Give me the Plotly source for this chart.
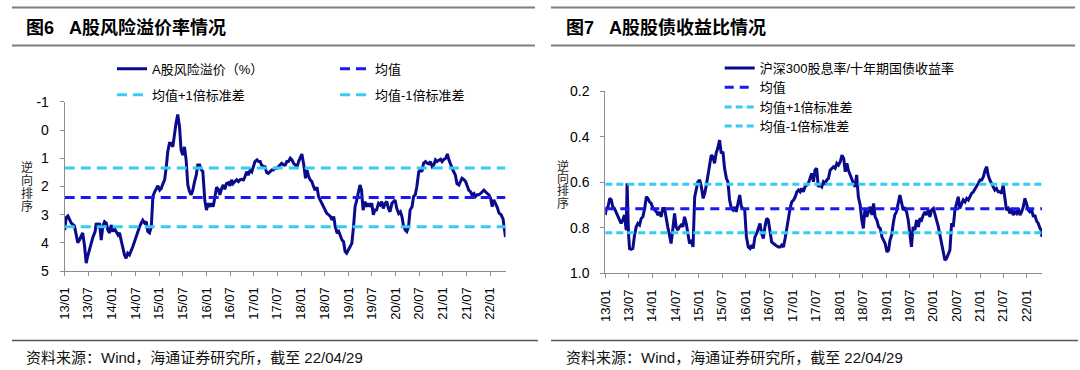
import plotly.graph_objects as go

# ---------------- data ----------------
left_dates = [
    "2013-01-01", "2013-01-13", "2013-01-26", "2013-02-21", "2013-03-17", "2013-03-29", "2013-04-12", "2013-04-25",
    "2013-05-20", "2013-06-03", "2013-06-16", "2013-06-28", "2013-07-11", "2013-07-24", "2013-08-07", "2013-08-24",
    "2013-09-02", "2013-09-14", "2013-09-27", "2013-10-10", "2013-10-23", "2013-11-05", "2013-11-18", "2013-12-01",
    "2013-12-14", "2013-12-26",
    "2014-01-09", "2014-01-22", "2014-02-04", "2014-02-17", "2014-02-28", "2014-03-12", "2014-03-25", "2014-04-08",
    "2014-04-20", "2014-05-03", "2014-05-16", "2014-05-29", "2014-06-11", "2014-06-24", "2014-07-07", "2014-07-19",
    "2014-08-02", "2014-08-15", "2014-08-27", "2014-09-10", "2014-09-23", "2014-10-05", "2014-10-18", "2014-11-01",
    "2014-11-13", "2014-11-26", "2014-12-09", "2014-12-22",
    "2015-01-05", "2015-01-17", "2015-01-30", "2015-02-12", "2015-02-25", "2015-03-08", "2015-03-21", "2015-04-03",
    "2015-04-16", "2015-04-29", "2015-05-11", "2015-05-24", "2015-06-07", "2015-06-19", "2015-07-02", "2015-07-15",
    "2015-07-28", "2015-08-10", "2015-08-23", "2015-09-05", "2015-09-18", "2015-10-01", "2015-10-14", "2015-10-26",
    "2015-11-09", "2015-11-22", "2015-12-04", "2015-12-19",
    "2016-01-01", "2016-01-13", "2016-01-28", "2016-02-10", "2016-02-22", "2016-03-07", "2016-03-19", "2016-04-01",
    "2016-04-13", "2016-04-28", "2016-05-10", "2016-05-22", "2016-06-04", "2016-06-19", "2016-07-01", "2016-07-13",
    "2016-07-25", "2016-08-07", "2016-08-22", "2016-09-04", "2016-09-16", "2016-09-28", "2016-10-13", "2016-10-25",
    "2016-11-07", "2016-11-19", "2016-12-04", "2016-12-16", "2016-12-28",
    "2017-01-10", "2017-01-25", "2017-02-07", "2017-02-19", "2017-03-01", "2017-03-16", "2017-03-28", "2017-04-10",
    "2017-04-22", "2017-05-07", "2017-05-19", "2017-06-01", "2017-06-13", "2017-06-28", "2017-07-10", "2017-07-22",
    "2017-08-04", "2017-08-19", "2017-09-01", "2017-09-13", "2017-09-25", "2017-10-10", "2017-10-22", "2017-11-04",
    "2017-11-16", "2017-12-01", "2017-12-13", "2017-12-25",
    "2018-01-07", "2018-01-22", "2018-02-04", "2018-02-16", "2018-02-28", "2018-03-13", "2018-03-25", "2018-04-07",
    "2018-04-19", "2018-05-04", "2018-05-16", "2018-05-28", "2018-06-10", "2018-06-25", "2018-07-07", "2018-07-19",
    "2018-08-01", "2018-08-16", "2018-08-28", "2018-09-10", "2018-09-22", "2018-10-07", "2018-10-19", "2018-11-01",
    "2018-11-13", "2018-11-25", "2018-12-07", "2018-12-19",
    "2019-01-01", "2019-01-16", "2019-01-28", "2019-02-10", "2019-02-22", "2019-03-04", "2019-03-19", "2019-04-01",
    "2019-04-13", "2019-04-25", "2019-05-10", "2019-05-22", "2019-06-04", "2019-06-16", "2019-07-01", "2019-07-13",
    "2019-07-25", "2019-08-07", "2019-08-22", "2019-09-04", "2019-09-16", "2019-09-28", "2019-10-13", "2019-10-25",
    "2019-11-07", "2019-11-19", "2019-12-04", "2019-12-16", "2019-12-28",
    "2020-01-10", "2020-01-25", "2020-02-07", "2020-02-19", "2020-03-01", "2020-03-16", "2020-03-28", "2020-04-10",
    "2020-04-22", "2020-05-07", "2020-05-19", "2020-06-01", "2020-06-13", "2020-06-28", "2020-07-10", "2020-07-22",
    "2020-08-04", "2020-08-19", "2020-09-01", "2020-09-13", "2020-09-25", "2020-10-10", "2020-10-22", "2020-11-04",
    "2020-11-16", "2020-12-01", "2020-12-13", "2020-12-25",
    "2021-01-07", "2021-01-22", "2021-02-04", "2021-02-16", "2021-02-28", "2021-03-13", "2021-03-25", "2021-04-07",
    "2021-04-19", "2021-05-04", "2021-05-16", "2021-05-28", "2021-06-10", "2021-06-25", "2021-07-07", "2021-07-19",
    "2021-08-01", "2021-08-13", "2021-08-28", "2021-09-10", "2021-09-22", "2021-10-04", "2021-10-19", "2021-11-01",
    "2021-11-13", "2021-11-25", "2021-12-10", "2021-12-22",
    "2022-01-04", "2022-01-16", "2022-01-28", "2022-02-10", "2022-02-25", "2022-03-10", "2022-03-25", "2022-04-10",
    "2022-04-19", "2022-04-29",
]
left_values = [
    3.55, 3.10, 3.05, 3.30, 3.40, 3.65, 4.00, 3.90,
    3.65, 4.10, 4.72, 4.47, 4.25, 4.00, 3.80, 3.60,
    3.30, 3.47, 3.30, 3.90, 3.40, 3.25, 3.30, 3.55,
    3.65, 3.37,
    3.60, 3.50, 3.60, 3.72, 3.65, 3.90, 4.14, 4.43,
    4.55, 4.37, 4.43, 4.30, 4.14, 3.96, 3.78, 3.55,
    3.43, 3.30, 3.20, 3.30, 3.25, 3.60, 3.65, 3.43,
    2.36, 2.20, 2.07, 1.98,
    2.13, 2.07, 1.90, 1.77, 1.30, 0.77, 0.47, 0.47,
    0.60, 0.12, -0.24, -0.55, -0.12, 0.71, 0.89, 0.60,
    1.06, 1.95, 2.18, 2.30, 2.13, 1.83, 1.60, 1.24,
    1.24, 1.41, 1.47, 2.48,
    2.84, 2.60, 2.72, 2.60, 2.72, 2.36, 2.03, 2.10,
    2.30, 2.07, 1.95, 2.10, 1.90, 1.87, 1.98, 1.77,
    1.90, 1.83, 1.77, 1.83, 1.77, 1.75, 1.77, 1.65,
    1.48, 1.60, 1.42, 1.48, 1.30,
    1.12, 1.06, 1.12, 1.12, 1.24, 1.30, 1.30, 1.51,
    1.54, 1.48, 1.42, 1.42, 1.36, 1.36, 1.30, 1.24,
    1.18, 1.24, 1.24, 1.12, 1.12, 1.00, 1.06, 1.18,
    1.24, 1.30, 1.12, 0.95,
    0.85, 1.24, 1.71, 1.42, 1.65, 1.77, 1.83, 2.00,
    2.13, 2.03, 2.36, 2.48, 2.60, 2.72, 2.84, 2.96,
    3.00, 3.07, 3.19, 3.07, 3.43, 3.66, 3.60, 3.78,
    3.90, 3.96, 4.31, 4.37,
    4.26, 4.14, 4.02, 3.43, 2.72, 2.54, 2.25, 1.95,
    2.13, 2.84, 2.54, 2.72, 2.60, 2.72, 2.60, 3.01,
    2.84, 2.84, 2.60, 2.66, 2.54, 2.78, 2.60, 2.54,
    2.78, 2.90, 2.60, 2.54, 2.48,
    2.78, 2.96, 2.90, 3.07, 3.37, 3.55, 3.60, 3.43,
    2.84, 2.72, 2.36, 2.30, 2.01, 1.48, 1.42, 1.48,
    1.18, 1.12, 1.18, 1.20, 1.12, 1.30, 1.24, 1.06,
    1.12, 1.09, 1.04, 1.12,
    1.04, 1.00, 0.85, 1.06, 1.24, 1.36, 1.48, 1.60,
    1.90, 1.95, 1.83, 1.71, 1.75, 1.83, 1.98, 2.13,
    2.19, 2.30, 2.25, 2.36, 2.30, 2.30, 2.25, 2.19,
    2.13, 2.19, 2.25, 2.30,
    2.42, 2.72, 2.48, 2.60, 2.75, 2.95, 3.00, 3.15,
    3.40, 3.80,
]
left_mean = 2.39
left_plus_std = 3.43
left_minus_std = 1.35

right_dates = [
    "2013-01-01", "2013-01-09", "2013-01-22", "2013-02-05", "2013-02-17", "2013-02-28", "2013-03-13", "2013-03-26",
    "2013-04-09", "2013-04-21", "2013-05-04", "2013-05-17", "2013-05-30", "2013-06-13", "2013-06-20", "2013-07-01",
    "2013-07-09", "2013-07-21", "2013-08-04", "2013-08-17", "2013-08-30", "2013-09-12", "2013-09-25", "2013-10-08",
    "2013-10-21", "2013-11-04", "2013-11-17", "2013-11-29", "2013-12-12", "2013-12-25",
    "2014-01-08", "2014-01-21", "2014-02-04", "2014-02-16", "2014-02-28", "2014-03-12", "2014-03-25", "2014-04-08",
    "2014-04-21", "2014-05-03", "2014-05-16", "2014-05-29", "2014-06-12", "2014-06-25", "2014-07-07", "2014-07-20",
    "2014-08-03", "2014-08-16", "2014-08-29", "2014-09-11", "2014-09-24", "2014-10-07", "2014-10-20", "2014-11-03",
    "2014-11-16", "2014-11-29", "2014-12-12", "2014-12-24",
    "2015-01-07", "2015-01-20", "2015-02-03", "2015-02-15", "2015-02-28", "2015-03-11", "2015-03-24", "2015-04-07",
    "2015-04-20", "2015-05-03", "2015-05-15", "2015-05-28", "2015-06-11", "2015-06-24", "2015-07-07", "2015-07-20",
    "2015-08-03", "2015-08-15", "2015-08-28", "2015-09-11", "2015-09-24", "2015-10-07", "2015-10-19", "2015-11-02",
    "2015-11-15", "2015-11-28", "2015-12-11", "2015-12-24",
    "2016-01-06", "2016-01-21", "2016-02-04", "2016-02-17", "2016-02-28", "2016-03-13", "2016-03-26", "2016-04-09",
    "2016-04-21", "2016-05-04", "2016-05-17", "2016-05-30", "2016-06-12", "2016-06-25", "2016-07-08", "2016-07-21",
    "2016-08-04", "2016-08-17", "2016-08-30", "2016-09-12", "2016-09-25", "2016-10-08", "2016-10-21", "2016-11-03",
    "2016-11-16", "2016-11-29", "2016-12-12", "2016-12-25",
    "2017-01-08", "2017-01-21", "2017-02-03", "2017-02-16", "2017-02-28", "2017-03-12", "2017-03-25", "2017-04-07",
    "2017-04-20", "2017-05-03", "2017-05-16", "2017-05-29", "2017-06-12", "2017-06-24", "2017-07-07", "2017-07-20",
    "2017-08-03", "2017-08-16", "2017-08-29", "2017-09-11", "2017-09-24", "2017-10-07", "2017-10-20", "2017-11-03",
    "2017-11-15", "2017-11-28", "2017-12-11", "2017-12-24",
    "2018-01-07", "2018-01-20", "2018-02-03", "2018-02-15", "2018-02-28", "2018-03-11", "2018-03-24", "2018-04-07",
    "2018-04-20", "2018-05-02", "2018-05-15", "2018-05-28", "2018-06-11", "2018-06-24", "2018-07-06", "2018-07-19",
    "2018-08-02", "2018-08-15", "2018-08-28", "2018-09-11", "2018-09-24", "2018-10-06", "2018-10-19", "2018-11-02",
    "2018-11-15", "2018-11-28", "2018-12-11", "2018-12-23",
    "2019-01-06", "2019-01-19", "2019-01-30", "2019-02-12", "2019-02-24", "2019-03-08", "2019-03-21", "2019-04-04",
    "2019-04-17", "2019-04-29", "2019-05-12", "2019-05-25", "2019-06-08", "2019-06-21", "2019-07-03", "2019-07-16",
    "2019-07-29", "2019-08-12", "2019-08-25", "2019-09-08", "2019-09-20", "2019-10-03", "2019-10-16", "2019-10-29",
    "2019-11-11", "2019-11-24", "2019-12-07", "2019-12-20",
    "2020-01-03", "2020-01-15", "2020-01-28", "2020-02-11", "2020-02-23", "2020-03-07", "2020-03-20", "2020-04-02",
    "2020-04-15", "2020-04-28", "2020-05-11", "2020-05-24", "2020-06-06", "2020-06-19", "2020-07-02", "2020-07-15",
    "2020-07-27", "2020-08-10", "2020-08-23", "2020-09-06", "2020-09-19", "2020-10-02", "2020-10-14", "2020-10-27",
    "2020-11-10", "2020-11-23", "2020-12-05", "2020-12-18",
    "2021-01-01", "2021-01-14", "2021-01-27", "2021-02-09", "2021-02-22", "2021-03-05", "2021-03-18", "2021-03-31",
    "2021-04-14", "2021-04-26", "2021-05-09", "2021-05-22", "2021-06-05", "2021-06-17", "2021-06-30", "2021-07-13",
    "2021-07-26", "2021-08-09", "2021-08-21", "2021-09-04", "2021-09-17", "2021-09-30", "2021-10-13", "2021-10-26",
    "2021-11-08", "2021-11-21", "2021-12-04", "2021-12-17", "2021-12-29",
    "2022-01-12", "2022-01-25", "2022-02-08", "2022-02-21", "2022-03-05", "2022-03-17", "2022-03-30", "2022-04-12",
    "2022-04-22", "2022-04-29",
]
right_values = [
    0.744, 0.715, 0.708, 0.671, 0.678, 0.708, 0.715, 0.730,
    0.752, 0.766, 0.781, 0.766, 0.744, 0.810, 0.605, 0.825,
    0.891, 0.895, 0.891, 0.832, 0.796, 0.781, 0.788, 0.759,
    0.752, 0.715, 0.664, 0.671, 0.686, 0.693,
    0.715, 0.722, 0.730, 0.744, 0.730, 0.752, 0.715, 0.715,
    0.766, 0.796, 0.832, 0.869, 0.803, 0.737, 0.796, 0.810,
    0.796, 0.788, 0.796, 0.752, 0.781, 0.832, 0.869, 0.854,
    0.884, 0.664, 0.634, 0.598,
    0.590, 0.620, 0.671, 0.649, 0.612, 0.576, 0.532, 0.481,
    0.488, 0.517, 0.473, 0.451, 0.415, 0.473, 0.466, 0.539,
    0.583, 0.598, 0.678, 0.715, 0.722, 0.708, 0.730, 0.686,
    0.656, 0.708, 0.715, 0.722,
    0.840, 0.884, 0.891, 0.876, 0.891, 0.840, 0.825, 0.796,
    0.781, 0.825, 0.847, 0.796, 0.759, 0.766, 0.818, 0.862,
    0.869, 0.876, 0.880, 0.884, 0.884, 0.876, 0.884, 0.847,
    0.796, 0.752, 0.715, 0.686,
    0.678, 0.664, 0.642, 0.634, 0.642, 0.627, 0.642, 0.620,
    0.612, 0.605, 0.583, 0.561, 0.598, 0.547, 0.539, 0.620,
    0.612, 0.620, 0.598, 0.605, 0.590, 0.583, 0.547, 0.539,
    0.532, 0.539, 0.517, 0.525,
    0.510, 0.481, 0.495, 0.554, 0.517, 0.547, 0.568, 0.583,
    0.605, 0.620, 0.568, 0.664, 0.700, 0.766, 0.803, 0.715,
    0.752, 0.730, 0.708, 0.744, 0.693, 0.752, 0.766, 0.796,
    0.803, 0.840, 0.854, 0.869,
    0.906, 0.898, 0.854, 0.832, 0.781, 0.744, 0.730, 0.686,
    0.656, 0.686, 0.722, 0.715, 0.730, 0.766, 0.825, 0.884,
    0.796, 0.810, 0.766, 0.796, 0.759, 0.766, 0.744, 0.730,
    0.744, 0.722, 0.752, 0.722,
    0.715, 0.737, 0.766, 0.796, 0.832, 0.869, 0.913, 0.942,
    0.935, 0.913, 0.898, 0.781, 0.796, 0.722, 0.693, 0.664,
    0.715, 0.693, 0.678, 0.686, 0.671, 0.678, 0.664, 0.649,
    0.642, 0.627, 0.620, 0.605,
    0.590, 0.590, 0.576, 0.547, 0.532, 0.568, 0.590, 0.605,
    0.620, 0.634, 0.627, 0.642, 0.642, 0.649, 0.612, 0.678,
    0.722, 0.715, 0.737, 0.715, 0.744, 0.730, 0.737, 0.715,
    0.744, 0.730, 0.708, 0.671, 0.693,
    0.722, 0.730, 0.722, 0.752, 0.744, 0.770, 0.780, 0.800,
    0.810, 0.840,
]
right_mean = 0.716
right_plus_std = 0.822
right_minus_std = 0.609

tick_dates = ["2013-01-01", "2013-07-01", "2014-01-01", "2014-07-01", "2015-01-01", "2015-07-01",
              "2016-01-01", "2016-07-01", "2017-01-01", "2017-07-01", "2018-01-01", "2018-07-01",
              "2019-01-01", "2019-07-01", "2020-01-01", "2020-07-01", "2021-01-01", "2021-07-01",
              "2022-01-01"]
tick_labels = ["13/01", "13/07", "14/01", "14/07", "15/01", "15/07", "16/01", "16/07", "17/01", "17/07",
               "18/01", "18/07", "19/01", "19/07", "20/01", "20/07", "21/01", "21/07", "22/01"]
left_yticks = [-1, 0, 1, 2, 3, 4, 5]
right_yticks = [0.2, 0.4, 0.6, 0.8, 1.0]

x_start = "2013-01-01"
x_end = "2022-04-29"

# ---------------- style ----------------
W, H = 1080, 370
FONT = "Arial, 'Liberation Sans', 'Noto Sans CJK SC', sans-serif"
NAVY = "#0A0A8C"
BLUE = "#1A1AF0"
CYAN = "#33CCF5"
AXIS_GREY = "#8C8C8C"
NBSP = "\u00a0"


def px(x):
    return x / W


def py(y):
    return 1 - y / H


fig = go.Figure()

# left chart traces
fig.add_trace(go.Scatter(x=left_dates, y=left_values, mode="lines", name="A股风险溢价（%）",
                         line=dict(color=NAVY, width=3), xaxis="x", yaxis="y", legend="legend"))
fig.add_trace(go.Scatter(x=[x_start, x_end], y=[left_mean, left_mean], mode="lines", name="均值",
                         line=dict(color=BLUE, width=3, dash="10px,6px"), xaxis="x", yaxis="y", legend="legend2"))
fig.add_trace(go.Scatter(x=[x_start, x_end], y=[left_plus_std, left_plus_std], mode="lines", name="均值+1倍标准差",
                         line=dict(color=CYAN, width=3, dash="10px,6px"), xaxis="x", yaxis="y", legend="legend3"))
fig.add_trace(go.Scatter(x=[x_start, x_end], y=[left_minus_std, left_minus_std], mode="lines", name="均值-1倍标准差",
                         line=dict(color=CYAN, width=3, dash="10px,6px"), xaxis="x", yaxis="y", legend="legend4"))

# right chart traces
fig.add_trace(go.Scatter(x=right_dates, y=right_values, mode="lines", name="沪深300股息率/十年期国债收益率",
                         line=dict(color=NAVY, width=3), xaxis="x2", yaxis="y2", legend="legend5"))
fig.add_trace(go.Scatter(x=[x_start, x_end], y=[right_mean, right_mean], mode="lines", name="均值",
                         line=dict(color=BLUE, width=3, dash="9px,6px"), xaxis="x2", yaxis="y2", legend="legend6"))
fig.add_trace(go.Scatter(x=[x_start, x_end], y=[right_plus_std, right_plus_std], mode="lines", name="均值+1倍标准差",
                         line=dict(color=CYAN, width=3, dash="7px,4px"), xaxis="x2", yaxis="y2", legend="legend7"))
fig.add_trace(go.Scatter(x=[x_start, x_end], y=[right_minus_std, right_minus_std], mode="lines", name="均值-1倍标准差",
                         line=dict(color=CYAN, width=3, dash="7px,4px"), xaxis="x2", yaxis="y2", legend="legend8"))

xaxis_common = dict(type="date", range=[x_start, x_end], tickmode="array", tickvals=tick_dates, ticktext=tick_labels,
                    tickangle=-90, ticks="outside", ticklen=4, tickcolor=AXIS_GREY, showline=True, linecolor=AXIS_GREY,
                    linewidth=1, showgrid=False, zeroline=False, tickfont=dict(size=13, color="#000", family=FONT),
                    ticklabelstandoff=6, automargin=False)
yaxis_common = dict(ticks="outside", ticklen=4, tickcolor=AXIS_GREY, showline=True, linecolor=AXIS_GREY, linewidth=1,
                    showgrid=False, zeroline=False, tickfont=dict(size=14, color="#000", family=FONT),
                    ticklabelstandoff=8, automargin=False)

legend_common = dict(bgcolor="rgba(0,0,0,0)", borderwidth=0, font=dict(size=13, color="#000", family=FONT),
                     xanchor="left", yanchor="middle", itemwidth=30, orientation="v", itemclick=False)


def leg(xtext, ycenter):
    d = dict(legend_common)
    d["x"] = px(xtext - 40)
    d["y"] = py(ycenter)
    return d


shapes = []
for (x0, x1, y) in [(12, 535, 7.6), (12, 535, 45.5), (551, 1075, 7.6), (551, 1075, 45.5)]:
    shapes.append(dict(type="line", xref="paper", yref="paper", x0=px(x0), x1=px(x1), y0=py(y), y1=py(y),
                       line=dict(color="#7F7F7F", width=2)))
for (x0, x1, y) in [(12, 538, 340.6), (551, 1078, 340.6)]:
    shapes.append(dict(type="line", xref="paper", yref="paper", x0=px(x0), x1=px(x1), y0=py(y), y1=py(y),
                       line=dict(color="#555555", width=1.5)))

annotations = []
for (x, text) in [(24, "图6" + NBSP * 3 + "A股风险溢价率情况"), (563.5, "图7" + NBSP * 3 + "A股股债收益比情况")]:
    annotations.append(dict(xref="paper", yref="paper", x=px(x), y=py(27.5), xanchor="left", yanchor="middle",
                            text="<b>" + text + "</b>", showarrow=False,
                            font=dict(size=18, color="#000", family=FONT)))
for x in [24, 563.5]:
    annotations.append(dict(xref="paper", yref="paper", x=px(x), y=py(357), xanchor="left", yanchor="middle",
                            text="资料来源：Wind，海通证券研究所，截至 22/04/29", showarrow=False,
                            font=dict(size=15, color="#111", family=FONT)))
for (xc, ys) in [(27, [167.5, 180.5, 193.5, 206.5]), (562.5, [166, 178.5, 191, 203.5])]:
    for ch, yy in zip("逆向排序", ys):
        annotations.append(dict(xref="paper", yref="paper", x=px(xc), y=py(yy), xanchor="center", yanchor="middle",
                                text=ch, showarrow=False, font=dict(size=12, color="#222", family=FONT)))

fig.update_layout(
    width=W, height=H, margin=dict(l=0, r=0, t=0, b=0, pad=0, autoexpand=False),
    paper_bgcolor="white", plot_bgcolor="white",
    showlegend=True,
    xaxis=dict(domain=[px(64.7), px(505.5)], anchor="y", **xaxis_common),
    yaxis=dict(domain=[py(271), py(101.8)], anchor="x", range=[5, -1], tickvals=left_yticks,
               ticktext=[str(v) for v in left_yticks], **yaxis_common),
    xaxis2=dict(domain=[px(605.3), px(1042)], anchor="y2", **xaxis_common),
    yaxis2=dict(domain=[py(273.3), py(91.2)], anchor="x2", range=[1.0, 0.2], tickvals=right_yticks,
                ticktext=["%.1f" % v for v in right_yticks], **yaxis_common),
    legend=leg(152, 68.8),
    legend2=leg(375, 68.8),
    legend3=leg(152, 94.8),
    legend4=leg(375, 94.8),
    legend5=leg(759.7, 68.1),
    legend6=leg(759.7, 87.2),
    legend7=leg(759.7, 107),
    legend8=leg(759.7, 126),
    shapes=shapes,
    annotations=annotations,
)

fig.write_html("out.html", config={"displayModeBar": False, "staticPlot": True},
               post_script="document.body.style.margin='0';document.body.style.overflow='hidden';")
